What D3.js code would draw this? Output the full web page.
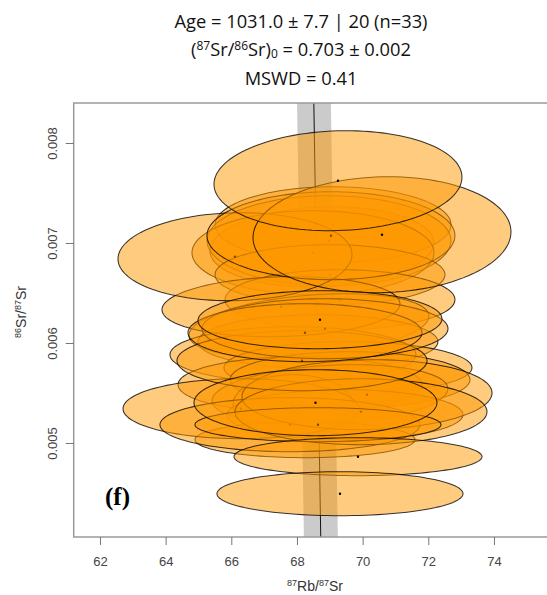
<!DOCTYPE html>
<html>
<head>
<meta charset="utf-8">
<script src="https://cdn.jsdelivr.net/npm/d3@7"></script>
<style>
  html, body { margin: 0; padding: 0; background: #fff; }
  svg { display: block; }
</style>
</head>
<body>
<script>
// Rb-Sr inverse isochron: 87Rb/87Sr vs 86Sr/87Sr, 95% error ellipses per aliquot
const rbSr   = [68.76, 69.10, 68.975, 68.488, 69.006, 69.31, 68.366, 68.64, 67.879, 69.554, 68.092,
                69.615, 69.006, 67.879, 69.463, 68.244, 66.295, 67.787, 70.133, 69.95, 68.153, 67.513,
                66.112, 68.853, 68.244, 68.64, 69.036, 70.59, 68.701, 68.564, 69.859, 69.249, 69.31];
const srSr   = [0.006963, 0.007183, 0.007023, 0.006903, 0.006683, 0.006433, 0.006173, 0.006013, 0.005883,
                0.005753, 0.005583, 0.005633, 0.005483, 0.005383, 0.005283, 0.005033, 0.005343, 0.005183,
                0.005483, 0.005313, 0.005823, 0.006363, 0.006863, 0.006143, 0.006103, 0.005183, 0.007073,
                0.007083, 0.006233, 0.005403, 0.004863, 0.007623, 0.004493];
const sRbSr  = [1.394, 1.468, 1.518, 1.506, 1.431, 1.431, 1.493, 1.493, 1.531, 1.543, 1.518,
                1.493, 1.468, 0.747, 1.468, 1.369, 1.468, 1.618, 1.556, 1.568, 1.556, 1.481,
                1.456, 1.531, 1.456, 1.531, 1.543, 1.605, 1.518, 1.512, 1.543, 1.543, 1.531];
const sSrSr  = [1.634e-4, 1.552e-4, 1.838e-4, 1.716e-4, 1.226e-4, 1.226e-4, 1.307e-4, 1.103e-4, 1.144e-4,
                1.062e-4, 1.144e-4, 1.144e-4, 1.226e-4, 1.226e-4, 1.021e-4, 0.735e-4, 1.226e-4, 1.103e-4,
                1.430e-4, 1.348e-4, 1.226e-4, 1.226e-4, 1.797e-4, 1.226e-4, 1.185e-4, 0.694e-4, 1.797e-4,
                2.369e-4, 1.185e-4, 1.348e-4, 0.776e-4, 2.043e-4, 0.899e-4];
const rho    = [0.10, 0, 0, 0, 0, 0, 0.30, 0, 0, 0, 0,
                0, 0.20, 0, 0, 0, 0, 0, 0.05, 0, 0, 0.10,
                0.05, 0, 0, 0, 0, 0.05, 0.03, 0, 0, 0.07, 0];

const xTicks = [62, 64, 66, 68, 70, 72, 74];
const yTicks = [0.005, 0.006, 0.007, 0.008];

// isochron fit
const ageMa = 1031.0, ageErr = 7.7, sr0 = 0.703, lambdaRb = 1.3972e-5;

const W = 547, H = 595;
const svg = d3.select("body").append("svg").attr("width", W).attr("height", H);

const x = d3.scaleLinear().domain([61.2, 75.92]).range([73.7, 557]);
const y = d3.scaleLinear().domain([0.00406, 0.0084]).range([537, 103]);

svg.append("clipPath").attr("id", "plotclip")
  .append("rect").attr("x", x.range()[0]).attr("y", y.range()[1])
  .attr("width", x.range()[1] - x.range()[0]).attr("height", y.range()[0] - y.range()[1]);

const plot = svg.append("g").attr("clip-path", "url(#plotclip)");

// isochron line and its age envelope: y = (1 - x*D)/r0, D = exp(lambda t) - 1
const xAt = (t, yy) => (1 - yy * sr0) / (Math.exp(lambdaRb * t) - 1);
const [yLo, yHi] = y.domain();
const band = [
  [xAt(ageMa - ageErr, yHi), yHi], [xAt(ageMa + ageErr, yHi), yHi],
  [xAt(ageMa + ageErr, yLo), yLo], [xAt(ageMa - ageErr, yLo), yLo]
];
plot.append("path")
  .attr("d", d3.line().x(d => x(d[0])).y(d => y(d[1]))(band) + "Z")
  .attr("fill", "rgb(185,185,185)").attr("fill-opacity", 0.75).attr("stroke", "none");
plot.append("line")
  .attr("x1", x(xAt(ageMa, yHi))).attr("y1", y(yHi))
  .attr("x2", x(xAt(ageMa, yLo))).attr("y2", y(yLo))
  .attr("stroke", "#111").attr("stroke-width", 1);

// error ellipses (95%: sqrt of chi2(2 dof) quantile)
const k = Math.sqrt(5.991);
const ellipseLine = d3.line().x(d => x(d[0])).y(d => y(d[1])).curve(d3.curveLinearClosed);
rbSr.forEach((cx, i) => {
  const cy = srSr[i], sx = sRbSr[i], sy = sSrSr[i], r = rho[i];
  const pts = d3.range(0, 120).map(j => {
    const t = 2 * Math.PI * j / 120;
    return [cx + k * sx * Math.cos(t),
            cy + k * sy * (r * Math.cos(t) + Math.sqrt(1 - r * r) * Math.sin(t))];
  });
  const g = plot.append("g");
  g.append("path").attr("d", ellipseLine(pts))
    .attr("fill", "rgb(254,152,0)").attr("fill-opacity", 0.5)
    .attr("stroke", "#000").attr("stroke-opacity", 0.78).attr("stroke-width", 1.05);
  g.append("circle").attr("cx", x(cx)).attr("cy", y(cy)).attr("r", 1.2).attr("fill", "#000");
});

// frame
svg.append("rect")
  .attr("x", x.range()[0]).attr("y", y.range()[1])
  .attr("width", x.range()[1] - x.range()[0]).attr("height", y.range()[0] - y.range()[1])
  .attr("fill", "none").attr("stroke", "#9a9a9a").attr("stroke-width", 1.5);

// axes
const axisFont = "'Liberation Sans', Arial, sans-serif";
const gx = svg.append("g").attr("transform", `translate(0,${y.range()[0]})`)
  .call(d3.axisBottom(x).tickValues(xTicks).tickSize(8).tickPadding(12).tickFormat(d3.format("d")));
gx.select(".domain").remove();
gx.selectAll(".tick line").attr("stroke", "#777");
gx.selectAll(".tick text").attr("fill", "#444").style("font", `13px ${axisFont}`);

const gy = svg.append("g").attr("transform", `translate(${x.range()[0]},0)`)
  .call(d3.axisLeft(y).tickValues(yTicks).tickSize(8).tickFormat(d3.format(".3f")));
gy.select(".domain").remove();
gy.selectAll(".tick line").attr("stroke", "#777");
gy.selectAll(".tick text")
  .attr("transform", "rotate(-90)").attr("x", 0).attr("y", -17).attr("dy", 0)
  .attr("text-anchor", "middle").attr("fill", "#444").style("font", `13px ${axisFont}`);

// axis titles
const xt = svg.append("text").attr("x", 315).attr("y", 591).attr("text-anchor", "middle")
  .attr("fill", "#333").style("font", `14px ${axisFont}`);
xt.append("tspan").text("87").attr("font-size", 9).attr("dy", -5);
xt.append("tspan").text("Rb/").attr("dy", 5);
xt.append("tspan").text("87").attr("font-size", 9).attr("dy", -5);
xt.append("tspan").text("Sr").attr("dy", 5);

const yt = svg.append("text").attr("transform", "translate(26,312) rotate(-90)").attr("text-anchor", "middle")
  .attr("fill", "#333").style("font", `14px ${axisFont}`);
yt.append("tspan").text("86").attr("font-size", 9).attr("dy", -5);
yt.append("tspan").text("Sr/").attr("dy", 5);
yt.append("tspan").text("87").attr("font-size", 9).attr("dy", -5);
yt.append("tspan").text("Sr").attr("dy", 5);

// panel tag
svg.append("text").attr("x", 105).attr("y", 505).text("(f)")
  .attr("fill", "#000").style("font", "bold 25px 'Liberation Serif', 'Times New Roman', serif");

// title block
const titleFont = "'Open Sans', 'Noto Sans', sans-serif";
const tx = 301;
svg.append("text").attr("x", tx).attr("y", 28).attr("text-anchor", "middle")
  .style("font", `18.3px ${titleFont}`).attr("fill", "#111")
  .text(`Age = ${ageMa.toFixed(1)} ± ${ageErr} | 20 (n=${rbSr.length})`);
const t2 = svg.append("text").attr("x", tx).attr("y", 56).attr("text-anchor", "middle")
  .style("font", `18.3px ${titleFont}`).attr("fill", "#111");
t2.append("tspan").text("(");
t2.append("tspan").text("87").attr("font-size", 12).attr("dy", -6);
t2.append("tspan").text("Sr/").attr("dy", 6);
t2.append("tspan").text("86").attr("font-size", 12).attr("dy", -6);
t2.append("tspan").text("Sr)").attr("dy", 6);
t2.append("tspan").text("0").attr("font-size", 12).attr("dy", 2);
t2.append("tspan").text(` = ${sr0.toFixed(3)} ± 0.002`).attr("dy", -2);
svg.append("text").attr("x", tx).attr("y", 85).attr("text-anchor", "middle")
  .style("font", `18.3px ${titleFont}`).attr("fill", "#111")
  .text("MSWD = 0.41");
</script>
</body>
</html>
